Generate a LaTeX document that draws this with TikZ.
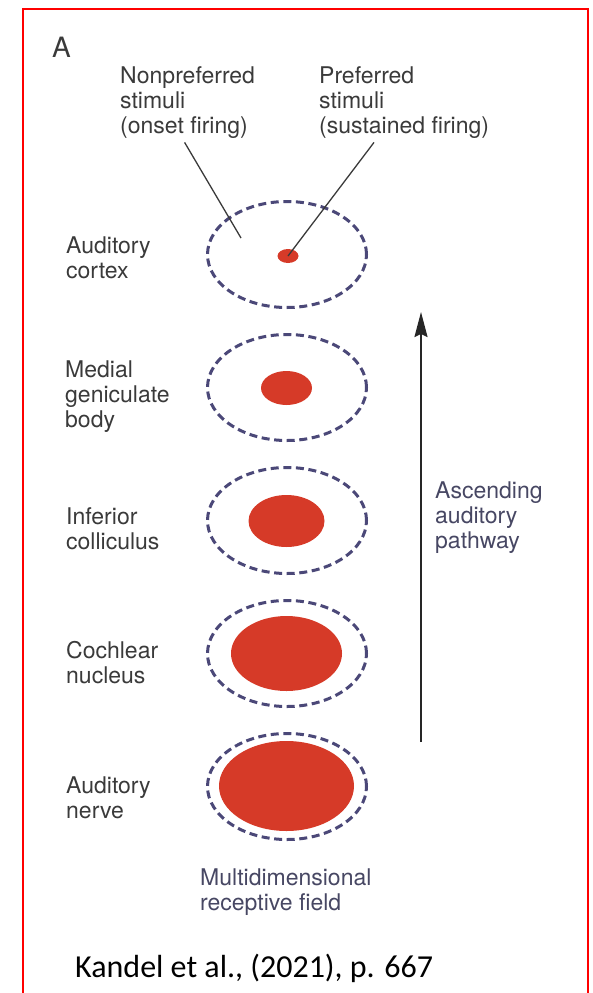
\documentclass[tikz,border=0pt]{standalone}
\usepackage{fontspec}
\usetikzlibrary{shapes.geometric,arrows.meta}
\newfontfamily\helv{TeX Gyre Heros}
\newfontfamily\calib{Carlito}
\definecolor{framered}{HTML}{FF0000}
\definecolor{fieldred}{HTML}{D63A28}
\definecolor{ringblue}{HTML}{4B4878}
\definecolor{txt}{HTML}{3A3A3A}
\definecolor{txtblue}{HTML}{474763}
\begin{document}
\begin{tikzpicture}[x=1pt,y=-1pt,
  lab/.style={font=\helv\fontsize{23}{25}\selectfont, text=txt, align=left, inner sep=0pt, anchor=north west},
  ring/.style={ellipse, draw=ringblue, line width=3pt, dash pattern=on 8pt off 4.6pt, inner sep=0pt, minimum width=159pt, minimum height=106pt},
  field/.style={ellipse, fill=fieldred, inner sep=0pt},
  leader/.style={draw=txt, line width=1.3pt},
  ascend/.style={draw=black!85, line width=2pt, -{Stealth[length=25pt,width=13pt,inset=3pt]}}
]
\useasboundingbox (0,0) rectangle (593,993);
% frame
\draw[framered, line width=2.6pt] (23,1000) -- (23,9) -- (588,9) -- (588,1000);

% panel letter
\node[font=\helv\fontsize{28}{30}\selectfont, text=txt, inner sep=0pt, anchor=base west] (panel) at (52,57) {A};

% top labels
\node[lab] (np) at (120,65.5) {\strut Nonpreferred\\stimuli\\(onset firing)};
\node[lab] (pf) at (319,65.5) {\strut Preferred\\stimuli\\(sustained firing)};

% rings and fields
\node[ring] (acring) at (287,254.5) {};
\node[ring] (mgring) at (287,387.5) {};
\node[ring] (icring) at (287,520.5) {};
\node[ring] (cnring) at (287,653.5) {};
\node[ring] (anring) at (287,786.5) {};

\node[field, minimum width=21pt, minimum height=14pt] (acdot) at (288,256) {};
\node[field, minimum width=51pt, minimum height=34pt] (mgdot) at (286.5,388) {};
\node[field, minimum width=76pt, minimum height=52pt] (icdot) at (286.5,521) {};
\node[field, minimum width=111pt, minimum height=75pt] (cndot) at (286.5,653.5) {};
\node[field, minimum width=135pt, minimum height=90pt] (andot) at (286.5,786) {};

% left labels
\node[lab] (ac) at (66,235.5) {\strut Auditory\\cortex};
\node[lab] (mg) at (65,359.5) {\strut Medial\\geniculate\\body};
\node[lab] (ic) at (66,506.5) {\strut Inferior\\colliculus};
\node[lab] (cn) at (66,640.5) {\strut Cochlear\\nucleus};
\node[lab] (an) at (66,775.5) {\strut Auditory\\nerve};

% right label
\node[lab, text=txtblue] (asc) at (435,480.5) {\strut Ascending\\auditory\\pathway};

% bottom labels
\node[lab, text=txtblue] (mrf) at (200,867.5) {\strut Multidimensional\\receptive field};
\node[font=\calib\fontsize{32}{36}\selectfont, text=black, inner sep=0pt, anchor=base west] (cite) at (75,977) {Kandel et al., (2021), p. 667};

% leader lines
\coordinate (npend) at (241,238);
\draw[leader] ([xshift=-3pt,yshift=-4pt]np.south) -- (npend);
\draw[leader] ([xshift=55pt,yshift=-4pt]pf.south west) -- (acdot.center);

% ascending arrow
\coordinate (arrbot) at (421,742);
\coordinate (arrtop) at (421,312);
\draw[ascend] (arrbot) -- (arrtop);
\end{tikzpicture}
\end{document}
